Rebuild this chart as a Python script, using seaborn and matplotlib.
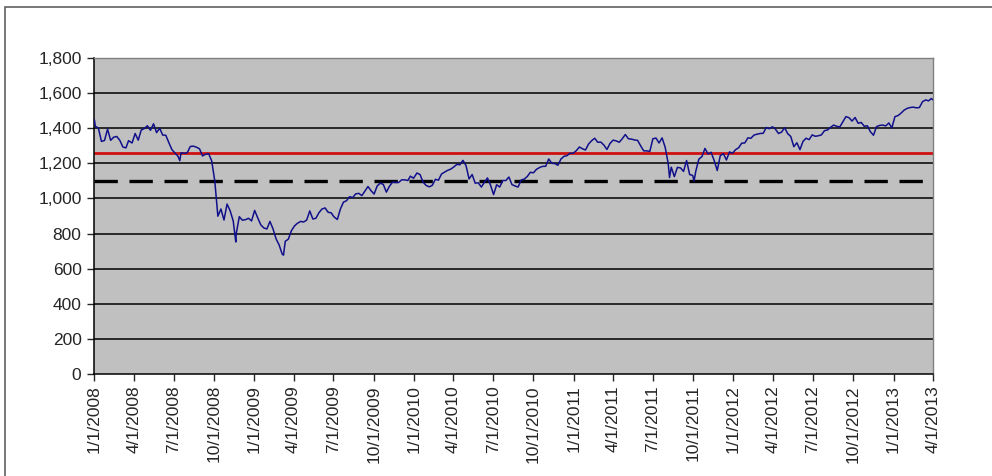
import matplotlib
matplotlib.use("Agg")
import matplotlib.pyplot as plt
import matplotlib.ticker as mticker
from matplotlib.patches import Rectangle
import seaborn as sns
import pandas as pd

# S&P 500 closes (roughly weekly, with a few extra low/high days)
dates_2008 = ["2008-01-02", "2008-01-04", "2008-01-11", "2008-01-18", "2008-01-25", "2008-02-01", "2008-02-08",
              "2008-02-15", "2008-02-22", "2008-02-29", "2008-03-07", "2008-03-14", "2008-03-20", "2008-03-28",
              "2008-04-04", "2008-04-11", "2008-04-18", "2008-04-25", "2008-05-02", "2008-05-09", "2008-05-16",
              "2008-05-23", "2008-05-30", "2008-06-06", "2008-06-13", "2008-06-20", "2008-06-27", "2008-07-03",
              "2008-07-11", "2008-07-15", "2008-07-18", "2008-07-25", "2008-08-01", "2008-08-08", "2008-08-15",
              "2008-08-22", "2008-08-29", "2008-09-05", "2008-09-12", "2008-09-19", "2008-09-26", "2008-10-03",
              "2008-10-10", "2008-10-17", "2008-10-24", "2008-10-31", "2008-11-07", "2008-11-14", "2008-11-20",
              "2008-11-21", "2008-11-28", "2008-12-05", "2008-12-12", "2008-12-19", "2008-12-26"]
spx_2008 = [1447, 1411, 1401, 1325, 1330, 1395, 1331,
            1349, 1353, 1331, 1293, 1288, 1329, 1316,
            1370, 1332, 1390, 1398, 1414, 1388, 1425,
            1375, 1400, 1361, 1360, 1318, 1278, 1262,
            1240, 1215, 1261, 1257, 1260, 1296, 1298,
            1292, 1283, 1242, 1252, 1255, 1213, 1099,
            899, 940, 877, 968, 930, 873, 752,
            800, 896, 876, 879, 887, 872]

dates_2009 = ["2009-01-02", "2009-01-09", "2009-01-16", "2009-01-23", "2009-01-30", "2009-02-06", "2009-02-13",
              "2009-02-20", "2009-02-27", "2009-03-06", "2009-03-09", "2009-03-13", "2009-03-20", "2009-03-27",
              "2009-04-03", "2009-04-09", "2009-04-17", "2009-04-24", "2009-05-01", "2009-05-08", "2009-05-15",
              "2009-05-22", "2009-05-29", "2009-06-05", "2009-06-12", "2009-06-19", "2009-06-26", "2009-07-02",
              "2009-07-10", "2009-07-17", "2009-07-24", "2009-07-31", "2009-08-07", "2009-08-14", "2009-08-21",
              "2009-08-28", "2009-09-04", "2009-09-11", "2009-09-18", "2009-09-25", "2009-10-02", "2009-10-09",
              "2009-10-16", "2009-10-23", "2009-10-30", "2009-11-06", "2009-11-13", "2009-11-20", "2009-11-27",
              "2009-12-04", "2009-12-11", "2009-12-18", "2009-12-24", "2009-12-31"]
spx_2009 = [932, 890, 850, 832, 826, 869, 827,
            770, 735, 683, 677, 756, 768, 816,
            843, 857, 869, 866, 877, 929, 883,
            887, 919, 940, 946, 921, 918, 896,
            880, 940, 979, 987, 1010, 1005, 1026,
            1029, 1016, 1042, 1068, 1044, 1025, 1071,
            1087, 1080, 1036, 1069, 1093, 1091, 1091,
            1106, 1106, 1102, 1127, 1115]

dates_2010 = ["2010-01-08", "2010-01-15", "2010-01-22", "2010-01-29", "2010-02-05", "2010-02-12", "2010-02-19",
              "2010-02-26", "2010-03-05", "2010-03-12", "2010-03-19", "2010-03-26", "2010-04-02", "2010-04-09",
              "2010-04-16", "2010-04-23", "2010-04-30", "2010-05-07", "2010-05-14", "2010-05-21", "2010-05-28",
              "2010-06-04", "2010-06-11", "2010-06-18", "2010-06-25", "2010-07-02", "2010-07-09", "2010-07-16",
              "2010-07-23", "2010-07-30", "2010-08-06", "2010-08-13", "2010-08-20", "2010-08-27", "2010-09-03",
              "2010-09-10", "2010-09-17", "2010-09-24", "2010-10-01", "2010-10-08", "2010-10-15", "2010-10-22",
              "2010-10-29", "2010-11-05", "2010-11-12", "2010-11-19", "2010-11-26", "2010-12-03", "2010-12-10",
              "2010-12-17", "2010-12-23", "2010-12-31"]
spx_2010 = [1145, 1136, 1092, 1074, 1066, 1075, 1109,
            1104, 1139, 1150, 1160, 1167, 1179, 1194,
            1192, 1217, 1187, 1111, 1136, 1087, 1089,
            1065, 1092, 1117, 1076, 1022, 1078, 1065,
            1102, 1102, 1122, 1079, 1071, 1065, 1105,
            1110, 1125, 1149, 1146, 1166, 1176, 1183,
            1183, 1225, 1200, 1199, 1189, 1225, 1240,
            1244, 1257, 1258]

dates_2011 = ["2011-01-07", "2011-01-14", "2011-01-21", "2011-01-28", "2011-02-04", "2011-02-11", "2011-02-18",
              "2011-02-25", "2011-03-04", "2011-03-11", "2011-03-18", "2011-03-25", "2011-04-01", "2011-04-08",
              "2011-04-15", "2011-04-21", "2011-04-29", "2011-05-06", "2011-05-13", "2011-05-20", "2011-05-27",
              "2011-06-03", "2011-06-10", "2011-06-17", "2011-06-24", "2011-07-01", "2011-07-08", "2011-07-15",
              "2011-07-22", "2011-07-29", "2011-08-05", "2011-08-08", "2011-08-12", "2011-08-19", "2011-08-26",
              "2011-09-02", "2011-09-09", "2011-09-16", "2011-09-23", "2011-09-30", "2011-10-03", "2011-10-07",
              "2011-10-14", "2011-10-21", "2011-10-28", "2011-11-04", "2011-11-11", "2011-11-18", "2011-11-25",
              "2011-12-02", "2011-12-09", "2011-12-16", "2011-12-23", "2011-12-30"]
spx_2011 = [1272, 1293, 1283, 1276, 1310, 1329, 1343,
            1320, 1321, 1304, 1279, 1313, 1332, 1328,
            1320, 1337, 1364, 1340, 1338, 1333, 1331,
            1300, 1271, 1271, 1268, 1340, 1344, 1316,
            1345, 1292, 1199, 1119, 1178, 1124, 1177,
            1174, 1154, 1216, 1136, 1131, 1099, 1155,
            1224, 1238, 1285, 1253, 1263, 1216, 1159,
            1244, 1255, 1219, 1265, 1258]

dates_2012 = ["2012-01-06", "2012-01-13", "2012-01-20", "2012-01-27", "2012-02-03", "2012-02-10", "2012-02-17",
              "2012-02-24", "2012-03-02", "2012-03-09", "2012-03-16", "2012-03-23", "2012-03-30", "2012-04-05",
              "2012-04-13", "2012-04-20", "2012-04-27", "2012-05-04", "2012-05-11", "2012-05-18", "2012-05-25",
              "2012-06-01", "2012-06-08", "2012-06-15", "2012-06-22", "2012-06-29", "2012-07-06", "2012-07-13",
              "2012-07-20", "2012-07-27", "2012-08-03", "2012-08-10", "2012-08-17", "2012-08-24", "2012-08-31",
              "2012-09-07", "2012-09-14", "2012-09-21", "2012-09-28", "2012-10-05", "2012-10-12", "2012-10-19",
              "2012-10-26", "2012-11-02", "2012-11-09", "2012-11-16", "2012-11-23", "2012-11-30", "2012-12-07",
              "2012-12-14", "2012-12-21", "2012-12-28"]
spx_2012 = [1278, 1289, 1315, 1316, 1345, 1343, 1361,
            1366, 1370, 1371, 1404, 1397, 1408, 1398,
            1370, 1378, 1403, 1369, 1353, 1295, 1317,
            1278, 1325, 1343, 1335, 1362, 1354, 1357,
            1362, 1386, 1390, 1405, 1418, 1411, 1407,
            1437, 1466, 1460, 1441, 1461, 1428, 1433,
            1411, 1414, 1380, 1360, 1409, 1416, 1418,
            1413, 1430, 1402]

dates_2013 = ["2013-01-04", "2013-01-11", "2013-01-18", "2013-01-25", "2013-02-01", "2013-02-08", "2013-02-15",
              "2013-02-22", "2013-03-01", "2013-03-08", "2013-03-15", "2013-03-22", "2013-03-28", "2013-04-01"]
spx_2013 = [1466, 1472, 1486, 1503, 1513, 1518, 1520,
            1516, 1518, 1551, 1561, 1556, 1569, 1562]

red_level = 1257
dashed_level = 1100

tick_dates = pd.date_range("2008-01-01", "2013-04-01", freq="3MS")
tick_labels = [f"{d.month}/{d.day}/{d.year}" for d in tick_dates]

df = pd.DataFrame({
    "date": pd.to_datetime(dates_2008 + dates_2009 + dates_2010 + dates_2011 + dates_2012 + dates_2013),
    "spx": spx_2008 + spx_2009 + spx_2010 + spx_2011 + spx_2012 + spx_2013,
})

sns.set_style("white")
plt.rcParams["font.family"] = ["Liberation Sans", "DejaVu Sans"]

fig = plt.figure(figsize=(9.92, 4.76), dpi=100)
ax = fig.add_axes([94 / 992, 1 - 374 / 476, (933 - 94) / 992, (374 - 58) / 476])
ax.set_facecolor("#c0c0c0")

# horizontal gridlines like the Excel chart
for yv in range(200, 1801, 200):
    ax.axhline(yv, color="black", lw=1.1, zorder=1)

ax.axhline(red_level, color="#d01010", lw=2.0, zorder=2)
ax.axhline(dashed_level, color="black", lw=2.4, ls=(0, (7, 3.5)), zorder=2)

sns.lineplot(data=df, x="date", y="spx", ax=ax, color="#10108c", lw=1.1, zorder=3)

ax.set_xlim(pd.Timestamp("2008-01-01"), pd.Timestamp("2013-04-01"))
ax.set_ylim(0, 1800)
ax.set_xticks(tick_dates)
ax.set_xticklabels(tick_labels, rotation=90, fontsize=12.5)
ax.set_yticks(range(0, 1801, 200))
ax.yaxis.set_major_formatter(mticker.FuncFormatter(lambda v, p: f"{int(v):,}"))
ax.tick_params(axis="y", labelsize=12.5, length=5, width=1, direction="out", left=True, pad=4)
ax.tick_params(axis="x", length=5, width=1, direction="out", bottom=True, pad=3)
ax.set_xlabel("")
ax.set_ylabel("")

for side in ["left", "bottom"]:
    ax.spines[side].set_color("black")
    ax.spines[side].set_linewidth(1.1)
for side in ["top", "right"]:
    ax.spines[side].set_color("#808080")
    ax.spines[side].set_linewidth(1.0)

# outer chart frame, running off the right and bottom of the picture
fig.patches.append(Rectangle((4.5 / 992, -0.2), 1.2, 1.2 - 7 / 476,
                             transform=fig.transFigure, fill=False,
                             edgecolor="#606060", lw=1.2))

fig.savefig("out.png", dpi=100)
